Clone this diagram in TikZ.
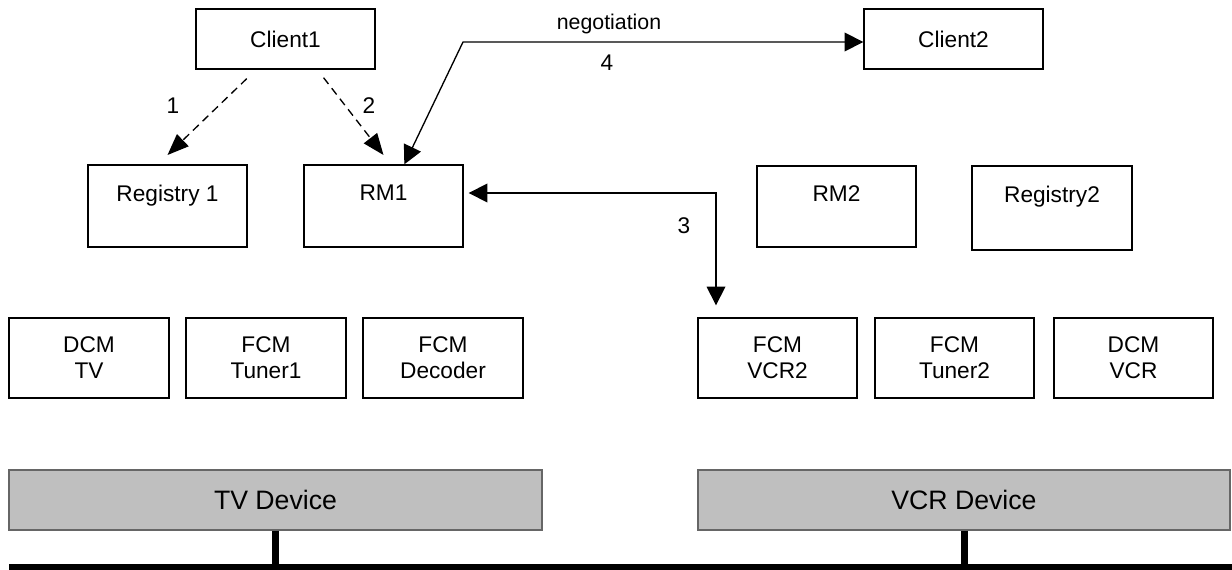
\documentclass[tikz,border=0pt]{standalone}
\usepackage{fontspec}
\setmainfont{Liberation Sans}
\usetikzlibrary{arrows.meta,calc}

\begin{document}
\begin{tikzpicture}[x=0.75pt,y=-0.75pt,
  every node/.style={font=\fontsize{17}{19.5}\selectfont},
  box/.style={draw, line width=1pt, inner sep=0pt, align=center},
  sz/.style 2 args={minimum width=#1*0.75pt, minimum height=#2*0.75pt},
  toptext/.style={label={[inner sep=0pt, anchor=north, yshift=-15pt]north:#1}},
  device/.style={draw=black!60, fill=black!25, line width=1pt, inner sep=0pt,
    font=\fontsize{20}{24}\selectfont},
  link/.style={line width=1pt, {Triangle[length=14pt,width=14pt]}-{Triangle[length=14pt,width=14pt]}},
  request/.style={line width=1pt, dash pattern=on 6pt off 4pt, -{Triangle[length=16pt,width=12.5pt]}},
  stem/.style={line width=5.25pt},
  bus/.style={line width=6.5pt},
  tag/.style={inner sep=0pt}
]
\useasboundingbox (0,0) rectangle (1232,570);

% clients
\node[box, sz={179}{60}] (client1) at (285.5,39) {Client1};
\node[box, sz={179}{60}] (client2) at (953.5,39) {Client2};

% registries and resource managers
\node[box, sz={159}{82}, toptext={Registry 1}] (reg1) at (167.5,206) {};
\node[box, sz={159}{82}, toptext={RM1}] (rm1) at (383.5,206) {};
\node[box, sz={159}{81}, toptext={RM2}] (rm2) at (836.5,206.5) {};
\node[box, sz={160}{84}, toptext={Registry2}] (reg2) at (1052,208) {};

% control modules
\node[box, sz={160}{80}] (dcmtv) at (89,358) {DCM\\TV};
\node[box, sz={160}{80}] (tuner1) at (266,358) {FCM\\Tuner1};
\node[box, sz={160}{80}] (decoder) at (443,358) {FCM\\Decoder};
\node[box, sz={159}{80}] (vcr2) at (777.5,358) {FCM\\VCR2};
\node[box, sz={159}{80}] (tuner2) at (954.5,358) {FCM\\Tuner2};
\node[box, sz={159}{80}] (dcmvcr) at (1133.5,358) {DCM\\VCR};

% devices
\node[device, sz={533}{60}] (tvdev) at (275.5,500) {TV Device};
\node[device, sz={532}{60}] (vcrdev) at (964,500) {VCR Device};

% network bus
\coordinate (busL) at (9,568);
\coordinate (busR) at (1240,568);
\draw[bus] (busL) -- (busR);
\draw[stem] (tvdev.south) -- (tvdev.south |- busL);
\draw[stem] (vcrdev.south) -- (vcrdev.south |- busL);

% 1, 2: client1 queries registry and resource manager
\draw[request] ($(client1.south west)!0.285!(client1.south east)+(0,9)$) -- ([yshift=7pt]reg1.north);
\draw[request] ($(client1.south west)!0.711!(client1.south east)+(0,8)$) -- ([yshift=7pt]rm1.north);
\node[tag] (n1) at (173,106) {1};
\node[tag] (n2) at (369,106) {2};

% 3: resource manager reserves VCR2
\coordinate (c3) at (716,193);
\draw[link] ([xshift=3.75pt]rm1.east |- c3) -- (c3) -- ([yshift=9pt]vcr2.north -| c3);
\node[tag] (n3) at (684,226) {3};

% 4: negotiation between RM1 and client2
\coordinate (c4) at (463,42);
\draw[link] ($(rm1.north west)!0.63!(rm1.north east)$) -- (c4) -- (client2.west |- c4);
\node[tag, font=\fontsize{16}{19}\selectfont] (neg) at (609,24) {negotiation};
\node[tag] (n4) at (607,63) {4};
\end{tikzpicture}
\end{document}
